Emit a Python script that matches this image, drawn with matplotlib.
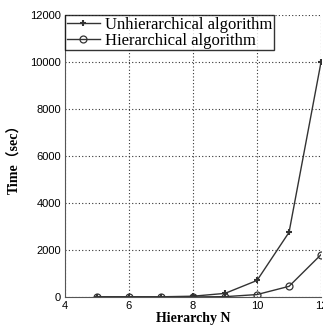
import matplotlib
matplotlib.use("Agg")
import matplotlib.pyplot as plt

hierarchy = [5, 6, 7, 8, 9, 10, 11, 12]
unhier_time = [5, 5, 5, 30, 150, 700, 2750, 10000]
hier_time = [0, 0, 0, 0, 10, 100, 450, 1800]

serif = ["Liberation Serif", "Noto Sans CJK SC"]

fig = plt.figure(figsize=(3.23, 3.31), dpi=100)
ax = fig.add_axes([0.201, 0.103, 0.793, 0.852])

ax.plot(hierarchy, unhier_time, color="#333333", lw=1.0, marker="+",
        ms=5, mew=1.5, label="Unhierarchical algorithm")
ax.plot(hierarchy, hier_time, color="#333333", lw=1.0, marker="o",
        ms=5, mfc="none", mew=0.9, label="Hierarchical algorithm")

ax.set_xlim(4, 12)
ax.set_ylim(0, 12000)
ax.set_xticks([4, 6, 8, 10, 12])
ax.set_yticks(range(0, 12001, 2000))
ax.grid(True, linestyle=(0, (1, 2)), color="#333333", lw=0.8)
ax.spines["top"].set_visible(False)
ax.spines["right"].set_visible(False)
ax.spines["left"].set_color("#555555")
ax.spines["bottom"].set_color("#555555")
ax.tick_params(direction="in", length=0, labelsize=8, pad=3)
for t in ax.get_xticklabels() + ax.get_yticklabels():
    t.set_family("Liberation Sans")

ax.set_xlabel("Hierarchy N", family=serif, fontweight="bold", fontsize=10, labelpad=1)
ax.set_ylabel("Time（sec）", family=serif, fontweight="bold", fontsize=10, labelpad=6)

leg = ax.legend(loc="upper left", prop={"family": "Liberation Serif", "size": 12},
                frameon=True, fancybox=False, borderpad=0.1, labelspacing=0.0,
                handlelength=2.0, handletextpad=0.3, borderaxespad=0.0)
leg.get_frame().set_edgecolor("black")
leg.get_frame().set_linewidth(1.0)

fig.savefig("out.png", dpi=100)
